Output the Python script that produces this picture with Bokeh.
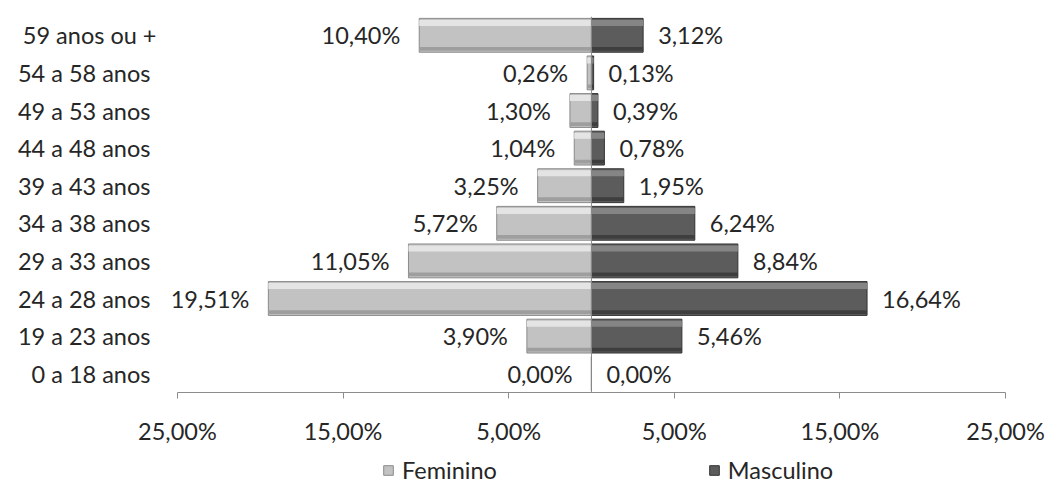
from bokeh.plotting import figure
from bokeh.layouts import column
from bokeh.models import (ColumnDataSource, FixedTicker, CustomJSTickFormatter,
                          Span, Legend, LegendItem, Range1d)
from bokeh.transform import dodge
from bokeh.embed import file_html
from bokeh.resources import INLINE
from bokeh.core.properties import value

categories = ["0 a  18 anos", "19 a  23 anos", "24 a  28 anos", "29 a  33 anos",
              "34 a  38 anos", "39 a  43 anos", "44 a  48 anos", "49 a  53 anos",
              "54 a  58 anos", "59 anos ou +"]
feminino = [0.00, 3.90, 19.51, 11.05, 5.72, 3.25, 1.04, 1.30, 0.26, 10.40]
masculino = [0.00, 5.46, 16.64, 8.84, 6.24, 1.95, 0.78, 0.39, 0.13, 3.12]
x_ticks = [-25, -15, -5, 5, 15, 25]
series_names = ["Feminino", "Masculino"]

FONT = "Lato"
FS = "23.5px"
TXT = "#262626"
FEM = dict(fill="#c2c2c2", line="#8a8a8a", hi="#e4e4e4", lo="#9e9e9e")
MASC = dict(fill="#5c5c5c", line="#333333", hi="#858585", lo="#3e3e3e")

def fmt(v):
    return ("%.2f" % v).replace(".", ",") + "%"

src = ColumnDataSource(dict(
    cat=categories,
    fem_left=[-v for v in feminino],
    masc_right=masculino,
    zero=[0.0] * len(categories),
    fem_lbl=[fmt(v) for v in feminino],
    masc_lbl=[fmt(v) for v in masculino],
))

# a little room left of -25 so the widest label is not clipped
p = figure(width=1046, height=447, y_range=categories,
           x_range=Range1d(x_ticks[0] - 0.6, x_ticks[-1]),
           output_backend="svg", toolbar_location=None,
           min_border_left=167, min_border_right=41, min_border_top=16, min_border_bottom=54)
p.outline_line_color = None
p.xgrid.visible = False
p.ygrid.visible = False
p.y_range.range_padding = 0

H = 0.9
# Female bars
p.hbar(y="cat", left="fem_left", right="zero", height=H, source=src,
       fill_color=FEM["fill"], line_color=FEM["line"], line_width=1)
p.hbar(y=dodge("cat", 0.33, range=p.y_range), left="fem_left", right="zero", height=0.16,
       source=src, fill_color=FEM["hi"], line_color=None)
p.hbar(y=dodge("cat", -0.36, range=p.y_range), left="fem_left", right="zero", height=0.1,
       source=src, fill_color=FEM["lo"], line_color=None)
# Male bars
p.hbar(y="cat", left="zero", right="masc_right", height=H, source=src,
       fill_color=MASC["fill"], line_color=MASC["line"], line_width=1)
p.hbar(y=dodge("cat", 0.33, range=p.y_range), left="zero", right="masc_right", height=0.16,
       source=src, fill_color=MASC["hi"], line_color=None)
p.hbar(y=dodge("cat", -0.36, range=p.y_range), left="zero", right="masc_right", height=0.1,
       source=src, fill_color=MASC["lo"], line_color=None)

p.add_layout(Span(location=0, dimension="height", line_color="#8c8c8c", line_width=1))

# Labels
p.text(x="fem_left", y="cat", text="fem_lbl", source=src, x_offset=-19,
       text_align="right", text_baseline="middle", text_font=value(FONT),
       text_font_size=FS, text_color=TXT)
p.text(x="masc_right", y="cat", text="masc_lbl", source=src, x_offset=15,
       text_align="left", text_baseline="middle", text_font=value(FONT),
       text_font_size=FS, text_color=TXT)

# X axis
xa = p.xaxis[0]
xa.ticker = FixedTicker(ticks=x_ticks)
xa.bounds = (x_ticks[0], x_ticks[-1])
xa.formatter = CustomJSTickFormatter(code="return Math.abs(tick).toFixed(2).replace('.', ',') + '%';")
xa.axis_line_color = "#8c8c8c"
xa.major_tick_line_color = "#8c8c8c"
xa.major_tick_in = 0
xa.major_tick_out = 6
xa.minor_tick_line_color = None
xa.major_label_standoff = 18
xa.major_label_text_font = FONT
xa.major_label_text_font_size = FS
xa.major_label_text_color = TXT

# Y axis
ya = p.yaxis[0]
ya.axis_line_color = None
ya.major_tick_line_color = None
ya.minor_tick_line_color = None
ya.major_label_standoff = 5
ya.major_label_text_font = FONT
ya.major_label_text_font_size = FS
ya.major_label_text_color = TXT

# Legend strip (separate figure below the chart)
lg = figure(width=1046, height=40, x_range=Range1d(0, 1), y_range=Range1d(0, 1),
            x_axis_type=None, y_axis_type=None, output_backend="svg",
            toolbar_location=None, min_border=0)
lg.outline_line_color = None
lg.xgrid.visible = False
lg.ygrid.visible = False
key = ColumnDataSource(dict(y=[0], left=[0], right=[0]))  # zero-width: legend keys only
r_f = lg.hbar(y="y", left="left", right="right", height=0, source=key,
              fill_color=FEM["fill"], line_color=FEM["line"])
r_m = lg.hbar(y="y", left="left", right="right", height=0, source=key,
              fill_color=MASC["fill"], line_color=MASC["line"])
legend = Legend(items=[LegendItem(label=series_names[0], renderers=[r_f]),
                       LegendItem(label=series_names[1], renderers=[r_m])],
                orientation="horizontal", location=(215, 3),
                spacing=211, padding=0, margin=0, glyph_width=12, glyph_height=12,
                label_height=24, label_standoff=8, label_text_font=FONT,
                label_text_font_size=FS, label_text_color=TXT,
                background_fill_alpha=0, border_line_color=None)
lg.add_layout(legend, "center")

layout = column(p, lg, spacing=0)
open("out.html", "w").write(file_html(layout, INLINE))
